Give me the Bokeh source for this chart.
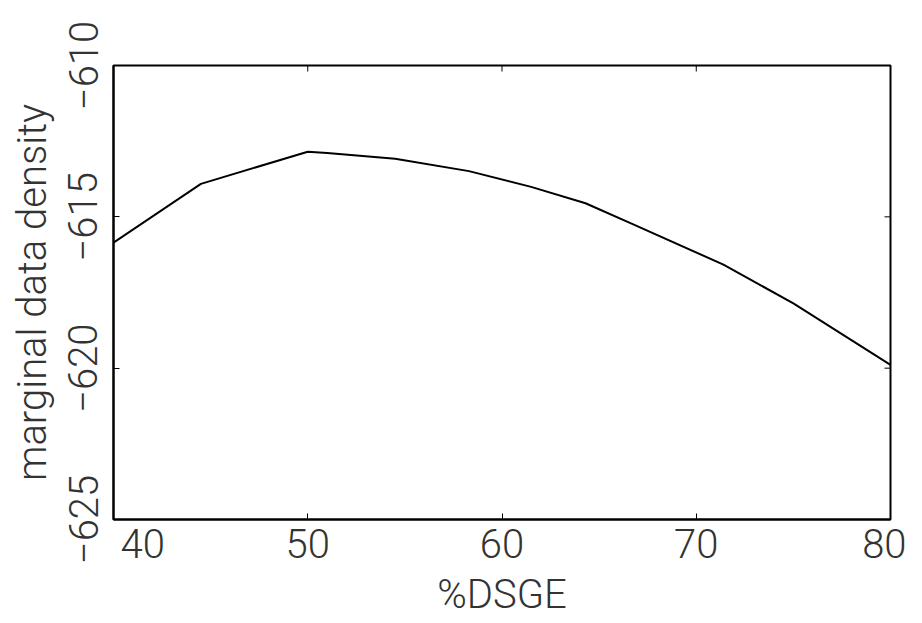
import math
from bokeh.plotting import figure
from bokeh.models import LinearAxis, FixedTicker
from bokeh.embed import file_html
from bokeh.resources import INLINE

# data
pct_dsge = [40, 44.5, 50, 51, 54.5, 58.3, 61.5, 64.3, 66.7, 71.4, 75, 80]
mdd = [-615.85, -613.91, -612.85, -612.89, -613.08, -613.49, -614.01,
       -614.55, -615.23, -616.58, -617.86, -619.89]
x_ticks = [40, 50, 60, 70, 80]
y_ticks = [-625, -620, -615, -610]
x_title = "%DSGE"
y_title = "marginal data density"

FONT = "Roboto Light"
TXT = "#333333"
FS = "40px"

p = figure(width=906, height=620, x_range=(40, 80), y_range=(-625, -610),
           output_backend="svg", toolbar_location=None,
           min_border_left=113, min_border_top=65, min_border_right=16, min_border_bottom=86,
           x_axis_location=None, y_axis_location=None)
p.grid.visible = False
p.outline_line_color = "black"
p.outline_line_width = 2
p.background_fill_color = "white"
p.border_fill_color = "white"

def style(ax):
    ax.axis_line_color = "black"
    ax.axis_line_width = 2
    ax.major_tick_in = 6
    ax.major_tick_out = 0
    ax.major_tick_line_color = "black"
    ax.major_tick_line_width = 1
    ax.minor_tick_line_color = None
    ax.major_label_text_font = FONT
    ax.major_label_text_font_size = FS
    ax.major_label_text_color = TXT
    ax.axis_label_text_font = FONT
    ax.axis_label_text_font_size = FS
    ax.axis_label_text_color = TXT
    ax.axis_label_text_font_style = "normal"

xb = LinearAxis(ticker=FixedTicker(ticks=x_ticks), axis_label=x_title)
style(xb)
xb.major_label_standoff = 1
xb.axis_label_standoff = 0
xb.major_label_overrides = {40: "\u00a0\u00a0\u00a0\u00a0\u00a0\u00a040"}
p.add_layout(xb, "below")

yl = LinearAxis(ticker=FixedTicker(ticks=y_ticks), axis_label=y_title)
style(yl)
yl.major_label_orientation = "vertical"
yl.major_label_standoff = 16
yl.axis_label_standoff = 10
p.add_layout(yl, "left")

# mirrored inward ticks on the top and right edges (half of each dash is clipped by the frame)
p.scatter(x_ticks, [-610] * len(x_ticks), marker="dash", size=12, angle=math.pi / 2,
          line_color="black", line_width=1)
p.scatter([80] * len(y_ticks), y_ticks, marker="dash", size=12,
          line_color="black", line_width=1)

p.line(pct_dsge, mdd, line_color="black", line_width=2)

open("out.html", "w").write(file_html(p, INLINE))
